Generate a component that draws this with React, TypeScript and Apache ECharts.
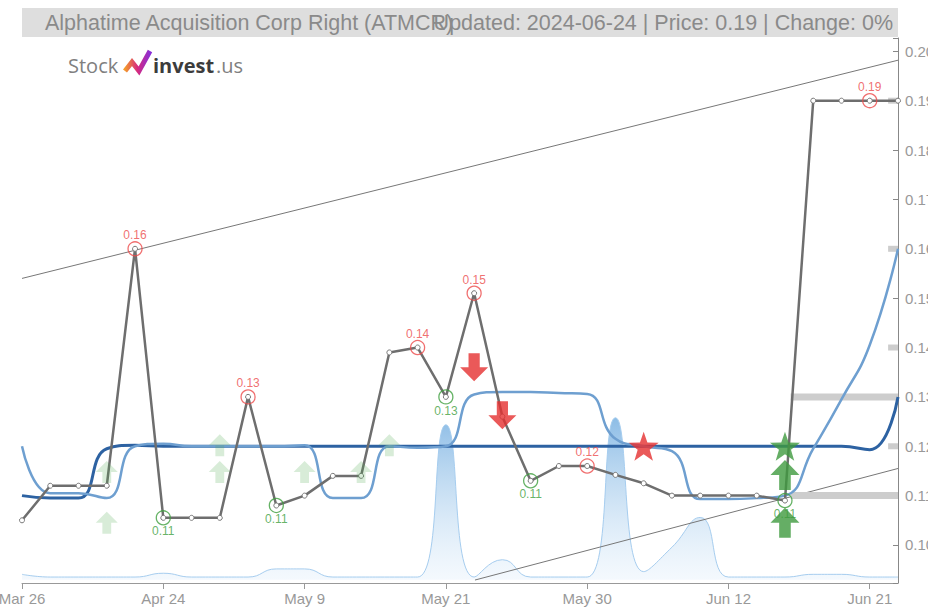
import React, { useEffect, useRef } from 'react';
import * as echarts from 'echarts';

const categories = ['Mar 26','Apr 1','Apr 5','Apr 11','Apr 18','Apr 24','Apr 26','Apr 30','May 2','May 7','May 9','May 10','May 14','May 15','May 17','May 21','May 22','May 23','May 24','May 28','May 30','May 31','Jun 4','Jun 6','Jun 10','Jun 12','Jun 13','Jun 14','Jun 17','Jun 18','Jun 21','Jun 24'];

const price = [0.105,0.112,0.112,0.112,0.16,0.1055,0.1055,0.1055,0.13,0.108,0.11,0.114,0.114,0.139,0.14,0.13,0.151,0.126,0.113,0.116,0.116,0.1142,0.1125,0.11,0.11,0.11,0.11,0.109,0.19,0.19,0.19,0.19];

const fastAvg = [0.12,0.1105,0.1105,0.1095,0.12,0.1205,0.12,0.12,0.12,0.12,0.1202,0.1095,0.1095,0.12,0.1197,0.12,0.1305,0.131,0.131,0.1308,0.1306,0.1215,0.12,0.119,0.1093,0.1093,0.1095,0.11,0.1195,0.1295,0.1405,0.16];

const slowAvg = [0.11,0.1095,0.1095,0.1195,0.1202,0.12,0.12,0.12,0.12,0.12,0.12,0.12,0.12,0.12,0.12,0.12,0.12,0.12,0.12,0.12,0.12,0.12,0.12,0.12,0.12,0.12,0.12,0.12,0.12,0.12,0.1193,0.13];

const volume = [1,0.5,0.5,0.5,0.5,1.2,0.5,0.5,0.5,2,2,0.5,0.5,0.5,0.5,28.6,0.5,3.7,0.5,0.5,0.5,29.9,1.5,6,11.5,0.5,0.5,0.5,1,1,0.5,0.5];

const highIdx = [4, 8, 14, 16, 20, 30];
const lowIdx = [5, 9, 15, 18, 27];

const upperTrend = [[0, 0.154], [31, 0.1982]];
const lowerTrend = [[16.03, 0.0929], [31, 0.1155]];

const supportLevels = [0.13, 0.11];
const minorLevels = [0.19, 0.16, 0.14, 0.12];

const paleUp = [[3, 0.1148], [3, 0.1045], [7, 0.1202], [7, 0.1148], [10, 0.1148], [12, 0.1148], [13, 0.1202]];
const redDown = [[16, 0.136], [17, 0.1263]];
const redStar = [[22, 0.12]];
const greenStar = [[27, 0.12]];
const greenUp = [[27, 0.1142], [27, 0.1045]];

const titleLeft = 'Alphatime Acquisition Corp Right (ATMCR)';
const titleRight = 'Updated: 2024-06-24 | Price: 0.19 | Change: 0%';

const UP = 'path://M50,0 L100,50 L70,50 L70,100 L30,100 L30,50 L0,50 Z';
const DOWN = 'path://M30,0 L70,0 L70,50 L100,50 L50,100 L0,50 L30,50 Z';
const STAR = 'path://M50,0 L61.76,33.82 L97.55,34.55 L69.02,56.18 L79.39,90.45 L50,70 L20.61,90.45 L30.98,56.18 L2.45,34.55 L38.24,33.82 Z';

const FONT = "'Liberation Sans', Arial, sans-serif";

const hiddenAxis = {
  show: false,
  axisLine: { show: false, onZero: false },
  axisTick: { show: false },
  axisLabel: { show: false },
  splitLine: { show: false },
};

export default function App() {
  const ref = useRef<HTMLDivElement>(null);
  useEffect(() => {
    if (!ref.current) return;
    const chart = echarts.init(ref.current, undefined, { renderer: 'svg' });
    const fmt = (v: number) => (Math.round(v * 100) / 100).toFixed(2);
    const option: any = {
      animation: false,
      textStyle: { fontFamily: FONT },
      grid: { left: 22, right: 30, top: 38, bottom: 25, containLabel: false, outerBoundsMode: 'none' },
      xAxis: [
        {
          type: 'category', data: categories, boundaryGap: false,
          axisLine: { onZero: false, lineStyle: { color: '#999' } },
          axisTick: { interval: 4, length: 6, lineStyle: { color: '#999' } },
          axisLabel: { interval: 4, color: '#999', fontSize: 15, margin: 8, fontFamily: FONT },
          splitLine: { show: false },
        },
        { type: 'value', min: 0, max: 31, ...hiddenAxis },
      ],
      yAxis: [
        {
          type: 'value', position: 'right', min: 0.0923, max: 0.2027, splitNumber: 11,
          axisLine: { show: true, onZero: false, lineStyle: { color: '#888' } },
          axisTick: { show: true, inside: true, length: 5, lineStyle: { color: '#888' } },
          axisLabel: {
            color: '#999', fontSize: 15, margin: 7, fontFamily: FONT,
            formatter: (v: number) => (Math.abs(v * 100 - Math.round(v * 100)) < 1e-6 ? v.toFixed(2) : ''),
          },
          splitLine: { show: false },
        },
        { type: 'value', min: -0.6, max: 100, position: 'right', ...hiddenAxis },
      ],
      series: [
        {
          type: 'line', xAxisIndex: 0, yAxisIndex: 1, data: volume, smooth: true, symbol: 'none', z: 1,
          lineStyle: { color: '#a6cdef', width: 1 },
          areaStyle: {
            color: new echarts.graphic.LinearGradient(0, 0, 0, 1, [
              { offset: 0, color: 'rgba(74,150,215,0.9)' },
              { offset: 1, color: 'rgba(210,230,248,0.35)' },
            ]),
          },
          clip: false,
        },
        {
          type: 'line', xAxisIndex: 1, yAxisIndex: 0, data: upperTrend, symbol: 'none', z: 2,
          lineStyle: { color: '#777', width: 1 },
        },
        {
          type: 'line', xAxisIndex: 1, yAxisIndex: 0, data: lowerTrend, symbol: 'none', z: 2,
          lineStyle: { color: '#777', width: 1 },
        },
        ...supportLevels.map((lv) => ({
          type: 'line', xAxisIndex: 1, yAxisIndex: 0, data: [[27.2, lv], [31, lv]], symbol: 'none', z: 2,
          lineStyle: { color: '#cdcdcd', width: 7 },
        })),
        ...minorLevels.map((lv) => ({
          type: 'line', xAxisIndex: 1, yAxisIndex: 0, data: [[30.65, lv], [31, lv]], symbol: 'none', z: 2,
          lineStyle: { color: '#cdcdcd', width: 6 },
        })),
        {
          type: 'line', data: slowAvg, smooth: true, symbol: 'none', z: 3,
          lineStyle: { color: '#2d62a2', width: 3 },
        },
        {
          type: 'line', data: fastAvg, smooth: true, symbol: 'none', z: 3,
          lineStyle: { color: '#6e9fd0', width: 2.5 },
        },
        {
          type: 'line', data: price, symbol: 'circle', symbolSize: 5, z: 5,
          itemStyle: { color: '#fff', borderColor: '#777', borderWidth: 1 },
          lineStyle: { color: '#6e6e6e', width: 2.5 },
        },
        {
          type: 'scatter', data: highIdx.map((i) => [i, price[i]]), symbol: 'circle', symbolSize: 14, z: 6,
          itemStyle: { color: 'rgba(0,0,0,0)', borderColor: '#ec4b4b', borderWidth: 1.3 },
          label: { show: true, position: 'top', distance: 0, color: '#ec4b4b', fontSize: 12, fontFamily: FONT, formatter: (p: any) => fmt(p.value[1]) },
        },
        {
          type: 'scatter', data: lowIdx.map((i) => [i, price[i]]), symbol: 'circle', symbolSize: 14, z: 6,
          itemStyle: { color: 'rgba(0,0,0,0)', borderColor: '#3f9f3f', borderWidth: 1.3 },
          label: { show: true, position: 'bottom', distance: 0, color: '#3f9f3f', fontSize: 12, fontFamily: FONT, formatter: (p: any) => fmt(p.value[1]) },
        },
        {
          type: 'scatter', data: paleUp, symbol: UP, symbolSize: [22, 22], z: 7,
          itemStyle: { color: 'rgba(80,170,80,0.28)' },
        },
        {
          type: 'scatter', data: redDown, symbol: DOWN, symbolSize: [28, 28], z: 7,
          itemStyle: { color: '#e53030' },
        },
        {
          type: 'scatter', data: redStar, symbol: STAR, symbolSize: [30, 29], z: 7,
          itemStyle: { color: '#e53030' },
        },
        {
          type: 'scatter', data: greenStar, symbol: STAR, symbolSize: [30, 29], z: 7,
          itemStyle: { color: '#3e9a3e' },
        },
        {
          type: 'scatter', data: greenUp, symbol: UP, symbolSize: [29, 30], z: 7,
          itemStyle: { color: '#3e9a3e' },
        },
      ],
      graphic: [
        { type: 'rect', shape: { x: 22, y: 8, width: 876, height: 29 }, style: { fill: '#dedede' }, z: 10 },
        { type: 'text', x: 45, y: 23, style: { text: titleLeft, fill: '#8a8a8a', font: `21.5px ${FONT}`, textVerticalAlign: 'middle', textAlign: 'left' }, z: 11 },
        { type: 'text', x: 893, y: 23, style: { text: titleRight, fill: '#8a8a8a', font: `21.5px ${FONT}`, textVerticalAlign: 'middle', textAlign: 'right' }, z: 11 },
        { type: 'text', x: 68, y: 65, style: { text: 'Stock', fill: '#808080', font: "20px 'Open Sans', sans-serif", textVerticalAlign: 'middle' }, z: 11 },
        {
          type: 'polyline', shape: { points: [[125, 71], [132, 62], [139, 71], [150, 51]] }, z: 11,
          style: {
            fill: null, lineWidth: 5, lineJoin: 'miter',
            stroke: new echarts.graphic.LinearGradient(0, 0, 1, 0, [
              { offset: 0, color: '#f39a2b' }, { offset: 0.5, color: '#d62a7e' }, { offset: 1, color: '#8b2fd6' },
            ]),
          },
        },
        { type: 'text', x: 153, y: 65, style: { text: 'invest', fill: '#3c3c3c', font: "bold 20px 'Open Sans', sans-serif", textVerticalAlign: 'middle' }, z: 11 },
        { type: 'text', x: 216, y: 65, style: { text: '.us', fill: '#808080', font: "20px 'Open Sans', sans-serif", textVerticalAlign: 'middle' }, z: 11 },
      ],
    };
    chart.setOption(option);
    return () => chart.dispose();
  }, []);
  return <div ref={ref} style={{ position: 'absolute', left: 0, top: 0, width: 928, height: 608 }} />;
}
